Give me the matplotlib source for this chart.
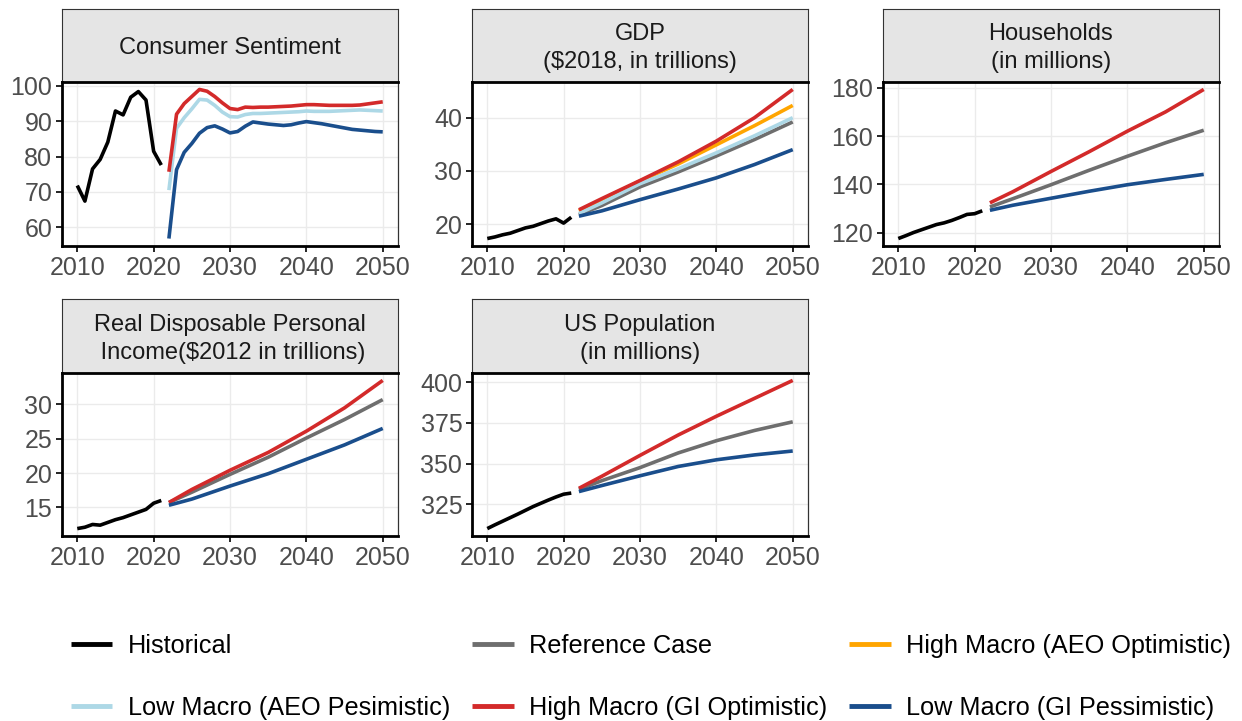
import matplotlib
matplotlib.use('Agg')
import matplotlib.pyplot as plt
from matplotlib.lines import Line2D

plt.rcParams['font.family'] = ['Liberation Sans', 'DejaVu Sans']

# ---------------- data ----------------
series_names = ["Historical", "Reference Case", "High Macro (AEO Optimistic)",
                "Low Macro (AEO Pesimistic)", "High Macro (GI Optimistic)",
                "Low Macro (GI Pessimistic)"]
series_colors = ["#000000", "#6E6E6E", "#FFA500", "#ADD8E6", "#D32A2A", "#1A4E8C"]

hist_years = list(range(2010, 2022))
proj_years_annual = list(range(2022, 2051))
proj_years = [2022, 2025, 2030, 2035, 2040, 2045, 2050]
x_ticks = [2010, 2020, 2030, 2040, 2050]

# Consumer Sentiment
cs_hist = [71.8, 67.4, 76.5, 79.2, 84.1, 92.9, 91.8, 96.8, 98.4, 96.0, 81.5, 77.6]
cs_low_aeo = [70.5, 88.0, 91.0, 93.5, 96.2, 96.0, 94.5, 92.6, 91.3, 91.2, 91.9, 92.2,
              92.2, 92.3, 92.4, 92.5, 92.6, 92.7, 92.9, 92.8, 92.8, 92.8, 92.9, 93.0,
              93.1, 93.2, 93.1, 93.0, 92.9]
cs_high_gi = [75.7, 92.0, 95.0, 97.0, 99.0, 98.5, 97.0, 95.2, 93.6, 93.3, 94.0, 93.9,
              94.0, 94.0, 94.1, 94.2, 94.3, 94.5, 94.7, 94.7, 94.6, 94.5, 94.5, 94.5,
              94.5, 94.6, 94.9, 95.2, 95.5]
cs_low_gi = [56.8, 76.3, 81.2, 83.7, 86.6, 88.2, 88.7, 87.8, 86.7, 87.1, 88.6, 89.8,
             89.5, 89.2, 89.0, 88.8, 89.0, 89.5, 89.9, 89.6, 89.3, 88.9, 88.5, 88.1,
             87.7, 87.5, 87.3, 87.1, 87.0]
cs_yticks = [60, 70, 80, 90, 100]

# GDP ($2018, trillions)
gdp_hist = [17.3, 17.6, 18.0, 18.3, 18.8, 19.3, 19.6, 20.1, 20.6, 21.0, 20.2, 21.3]
gdp_ref = [21.8, 23.5, 27.0, 29.8, 32.8, 35.9, 39.2]
gdp_high_aeo = [22.5, 24.6, 28.1, 31.3, 34.9, 38.5, 42.3]
gdp_low_aeo = [22.0, 24.0, 27.6, 30.4, 33.4, 36.6, 40.0]
gdp_high_gi = [22.7, 24.8, 28.2, 31.7, 35.6, 40.0, 45.3]
gdp_low_gi = [21.5, 22.5, 24.6, 26.6, 28.7, 31.2, 34.0]
gdp_yticks = [20, 30, 40]

# Households (millions)
hh_hist = [117.5, 118.7, 120.0, 121.1, 122.2, 123.3, 124.0, 125.0, 126.2, 127.5, 127.8, 129.0]
hh_ref = [130.6, 134.0, 139.8, 145.8, 151.6, 157.2, 162.4]
hh_high_gi = [132.3, 136.9, 145.3, 153.5, 162.0, 170.0, 179.3]
hh_low_gi = [129.2, 131.3, 134.2, 137.1, 139.8, 142.0, 144.1]
hh_yticks = [120, 140, 160, 180]

# Real Disposable Personal Income ($2012, trillions)
rdpi_hist = [11.9, 12.1, 12.5, 12.4, 12.8, 13.2, 13.5, 13.9, 14.3, 14.7, 15.6, 16.0]
rdpi_ref = [15.7, 17.2, 19.8, 22.3, 25.1, 27.8, 30.7]
rdpi_high_gi = [15.7, 17.6, 20.4, 23.0, 26.1, 29.5, 33.5]
rdpi_low_gi = [15.3, 16.2, 18.1, 19.9, 22.0, 24.1, 26.5]
rdpi_yticks = [15, 20, 25, 30]

# US Population (millions)
pop_hist = [310.1, 312.4, 314.6, 316.8, 319.0, 321.3, 323.6, 325.6, 327.6, 329.5, 331.2, 331.9]
pop_ref = [334.2, 339.5, 347.5, 356.5, 364.0, 370.3, 375.6]
pop_high_gi = [334.8, 342.2, 355.0, 367.5, 379.0, 390.0, 401.0]
pop_low_gi = [332.8, 336.5, 342.5, 348.2, 352.3, 355.3, 357.7]
pop_yticks = [325, 350, 375, 400]

# ---------------- figure ----------------
W, H = 1242, 721
fig = plt.figure(figsize=(W / 100, H / 100), dpi=100)

def px_axes(x0, y_top, x1, y_bot):
    return [x0 / W, 1 - y_bot / H, (x1 - x0) / W, (y_bot - y_top) / H]

cols = [(62, 398), (472, 808), (883, 1219)]
rows = [(9, 82, 246), (299, 373, 536)]  # strip top, plot top, plot bottom

LW = 2.6
tick_color = "#4D4D4D"

def make_panel(col, row, title, hist, proj, yticks):
    x0, x1 = cols[col]
    st, pt, pb = rows[row]
    # strip
    sax = fig.add_axes(px_axes(x0, st, x1, pt))
    sax.set_facecolor("#E5E5E5")
    sax.set_xticks([]); sax.set_yticks([])
    for s in sax.spines.values():
        s.set_color("#333333"); s.set_linewidth(0.8)
    sax.text(0.5, 0.46, title, ha='center', va='center', fontsize=17,
             color="#1A1A1A", transform=sax.transAxes, linespacing=1.35)
    # panel
    ax = fig.add_axes(px_axes(x0, pt, x1, pb))
    ax.set_facecolor("white")
    ax.grid(True, color="#EBEBEB", linewidth=1.0)
    ax.set_axisbelow(True)
    ax.plot(hist_years, hist, color=series_colors[0], lw=LW, solid_capstyle='butt')
    for idx, (years, vals) in proj:
        ax.plot(years, vals, color=series_colors[idx], lw=LW, solid_capstyle='butt')
    ax.set_xticks(x_ticks)
    ax.set_yticks(yticks)
    ax.margins(x=0.05, y=0.05)
    for side in ['left', 'bottom', 'top']:
        ax.spines[side].set_linewidth(2.0)
        ax.spines[side].set_color("black")
    ax.spines['right'].set_linewidth(0.9)
    ax.spines['right'].set_color("#333333")
    ax.tick_params(axis='both', length=4, width=1.2, color="black",
                   labelsize=18, labelcolor=tick_color, pad=3)
    return ax

make_panel(0, 0, "Consumer Sentiment", cs_hist,
           [(3, (proj_years_annual, cs_low_aeo)),
            (4, (proj_years_annual, cs_high_gi)),
            (5, (proj_years_annual, cs_low_gi))], cs_yticks)
make_panel(1, 0, "GDP\n($2018, in trillions)", gdp_hist,
           [(1, (proj_years, gdp_ref)), (2, (proj_years, gdp_high_aeo)),
            (3, (proj_years, gdp_low_aeo)), (4, (proj_years, gdp_high_gi)),
            (5, (proj_years, gdp_low_gi))], gdp_yticks)
make_panel(2, 0, "Households\n(in millions)", hh_hist,
           [(1, (proj_years, hh_ref)), (4, (proj_years, hh_high_gi)),
            (5, (proj_years, hh_low_gi))], hh_yticks)
make_panel(0, 1, "Real Disposable Personal\n Income($2012 in trillions)", rdpi_hist,
           [(1, (proj_years, rdpi_ref)), (4, (proj_years, rdpi_high_gi)),
            (5, (proj_years, rdpi_low_gi))], rdpi_yticks)
make_panel(1, 1, "US Population\n(in millions)", pop_hist,
           [(1, (proj_years, pop_ref)), (4, (proj_years, pop_high_gi)),
            (5, (proj_years, pop_low_gi))], pop_yticks)

# legend filled row-wise (matplotlib fills column-wise, so reorder)
order = [0, 3, 1, 4, 2, 5]
handles = [Line2D([0], [0], color=series_colors[i], lw=3.5, solid_capstyle='butt') for i in order]
labels = [series_names[i] for i in order]
fig.legend(handles, labels, ncol=3, loc='center',
           bbox_to_anchor=(651 / W, 1 - 677 / H), frameon=False, fontsize=18.2,
           handlelength=1.65, handletextpad=0.62, columnspacing=0.85,
           labelspacing=1.5)

fig.savefig("out.png", dpi=100)
